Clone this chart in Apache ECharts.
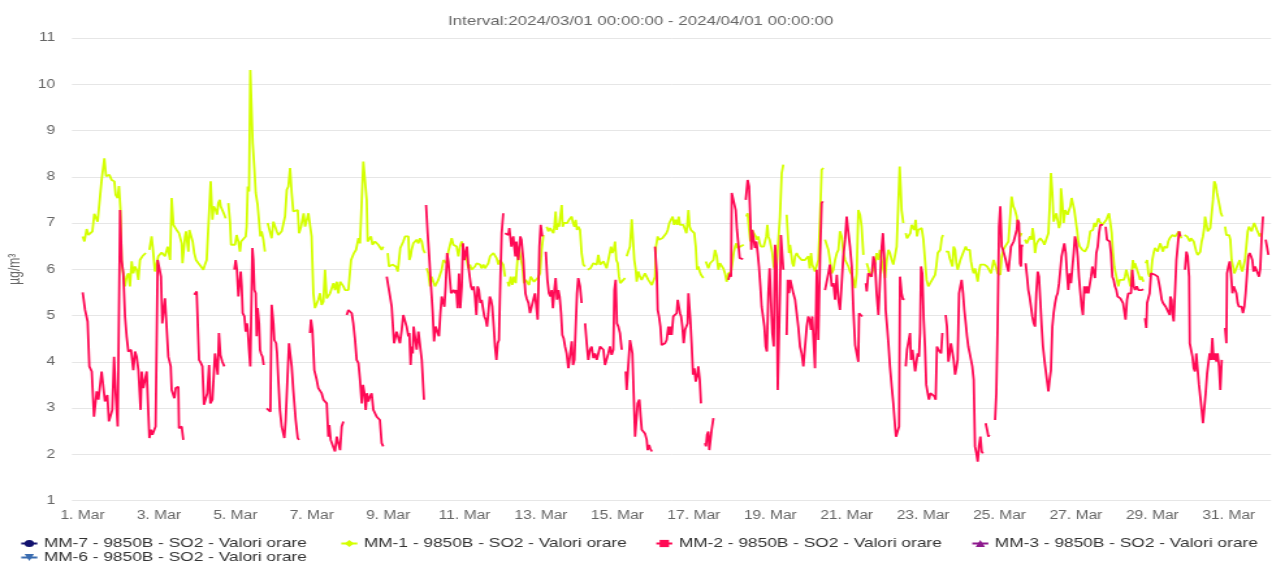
<!DOCTYPE html>
<html><head><meta charset="utf-8">
<script src="https://cdn.jsdelivr.net/npm/echarts@6/dist/echarts.min.js"></script>
<style>
html,body{margin:0;padding:0;background:#fff;overflow:hidden}
#wrap{width:1272px;height:563px;overflow:hidden;position:relative}
#c{position:absolute;left:0;top:0;height:563px;transform-origin:0 0}
</style></head>
<body><div id="wrap"><div id="c"></div></div>
<script>
// ---------- data (hours since 2024-03-01 00:00, µg/m³) ----------
const titleText = 'Interval:2024/03/01 00:00:00 - 2024/04/01 00:00:00';
const unitLabel = 'µg/m³';
const seriesNames = ['MM-7 - 9850B - SO2 - Valori orare','MM-1 - 9850B - SO2 - Valori orare','MM-2 - 9850B - SO2 - Valori orare','MM-3 - 9850B - SO2 - Valori orare','MM-6 - 9850B - SO2 - Valori orare'];
const seriesColors = ['#12126e','#d4ff00','#ff0a55','#8e1a8e','#3a6cb0'];
const tickDays = [1,3,5,7,9,11,13,15,17,19,21,23,25,27,29,31];
const yTicks = {min:1, max:11, step:1};

const mm7 = [];
const mm3 = [];
const mm6 = [];

const mm1 = [
[0.1,6.71],[1.2,6.60],[2.6,6.87],[3.7,6.74],[6.2,6.82],[7.4,7.20],[9.5,7.03],[12.0,7.93],[13.7,8.40],[14.8,8.01],[16.9,8.04],[18.3,7.93],[20.0,7.90],[20.8,7.61],[22.1,7.54],[22.9,7.80],[23.8,7.32],[24.6,6.13],[26.7,5.63],[27.7,5.84],[28.8,5.91],[29.8,5.63],[30.9,6.17],[31.9,5.91],[33.0,6.06],[34.0,5.99],[35.1,5.77],[36.1,6.20],[37.6,6.28],[39.7,6.35],null,
[42.0,6.42],[43.4,6.71],[44.1,6.49],[45.5,5.95],[47.6,6.28],[49.7,6.36],[51.8,6.28],[53.5,6.49],[55.0,6.20],[56.0,7.54],[57.1,6.96],
[58.1,6.92],[59.1,6.85],[60.6,6.78],[62.3,6.56],[62.8,6.13],[63.5,6.13],[64.4,6.71],[65.0,6.82],[66.1,6.78],[66.5,6.38],[67.1,6.85],[68.1,6.82],[69.2,6.60],[70.2,6.35],[71.3,6.20],[72.8,6.13],[74.4,6.06],[75.9,5.99],[76.9,6.10],[78.0,6.20],[79.0,6.17],[79.7,7.36],[80.5,7.90],[81.6,7.07],[82.4,7.36],[83.7,7.28],[84.5,7.18],[85.3,7.43],[86.2,7.50],[86.8,7.36],[87.8,7.32],[89.1,7.18],[89.9,7.10],null,
[91.6,7.43],[92.7,7.00],[93.3,6.53],[94.8,6.49],[95.8,6.53],[96.8,6.74],[97.9,6.60],[98.9,6.38],[99.6,6.60],[101.0,6.60],[102.5,6.71],[103.1,6.92],[103.8,7.79],[104.6,7.68],[105.4,10.31],[106.3,10.31],[106.9,8.73],[108.0,8.15],[108.8,7.65],[110.0,7.39],[110.9,7.36],[111.7,6.71],[112.5,6.82],[113.6,6.64],[114.6,6.38],null,
[116.3,7.00],[117.8,7.00],[118.8,6.67],[119.9,7.03],[120.9,7.00],[122.0,6.82],[123.0,6.74],[124.0,6.78],[125.1,6.82],[126.1,6.82],[127.2,7.14],[128.3,7.72],[129.3,7.79],[130.4,8.19],[131.4,7.65],[132.4,7.25],
[133.5,7.28],[135.2,7.28],[136.0,6.78],[137.3,6.92],[138.1,6.92],[138.9,7.21],[139.8,6.92],[140.8,6.96],[141.9,7.21],[142.9,7.18],[143.9,6.71],[145.0,5.48],[146.0,5.16],[147.1,5.16],[148.1,5.34],[149.2,5.48],[150.2,5.23],[151.3,5.30],[152.3,5.99],[153.4,5.37],[154.4,5.37],[155.5,5.48],[156.5,5.48],[157.6,5.70],[158.6,5.55],[159.7,5.73],[160.7,5.48],[161.8,5.73],[162.8,5.70],[163.9,5.63],[164.9,5.55],[166.0,5.55],[167.0,5.55],[168.0,5.59],[168.7,6.20],[169.5,6.20],[170.5,6.35],[171.8,6.42],[173.3,6.67],[174.3,6.56],[175.4,6.60],[176.4,8.33],[177.5,8.33],[178.5,7.50],[179.1,6.60],[180.0,6.60],[181.2,6.71],[182.1,6.53],[182.9,6.53],[183.7,6.60],[184.8,6.56],[185.8,6.53],[186.8,6.49],[187.9,6.42],[188.9,6.49],null,
[191.7,6.35],[192.5,6.06],[193.6,6.06],[194.6,6.10],[195.7,6.06],[196.9,6.06],[198.0,5.95],[198.8,6.20],[199.6,6.46],[200.5,6.46],[201.5,6.60],[202.6,6.71],[203.6,6.71],[204.7,6.71],[205.3,6.20],[206.1,6.28],[206.7,6.42],[207.8,6.56],
[208.9,6.56],[209.9,6.64],[211.0,6.56],[212.0,6.67],[213.1,6.60],[214.1,6.42],[215.1,6.35],null,
[216.2,6.02],[217.2,5.91],[218.3,5.63],[219.3,5.84],[220.4,5.84],[221.4,5.63],[222.5,5.59],[223.5,5.77],[224.6,5.81],[225.6,5.99],[226.7,6.20],[227.7,6.24],[228.7,6.13],[229.8,6.38],[230.8,6.35],[231.9,6.67],[232.9,6.53],[234.0,6.53],[235.0,6.49],[236.1,6.28],[237.1,6.49],[238.2,6.60],[239.2,6.42],[240.3,6.35],[241.3,6.20],[242.4,6.02],[243.4,6.10],[244.4,5.99],[245.5,6.02],[246.5,6.06],[247.6,6.13],[248.6,6.13],[249.7,6.10],[250.7,6.02],[251.8,6.10],[252.8,6.02],[253.9,5.99],[254.9,6.13],[256.0,6.28],[257.0,6.28],[258.1,6.35],[259.1,6.38],[260.1,6.24],[261.2,6.10],[262.2,6.20],[263.3,6.20],[264.3,6.10],[265.4,5.84],null,
[267.1,5.73],[267.9,5.63],[269.0,5.84],[270.0,5.66],[271.0,5.84],[272.1,5.70],[273.2,6.20],[274.2,6.49],[275.0,6.28],[276.3,6.06],[277.3,5.70],[278.4,5.77],[279.4,5.77],[280.5,5.66],[281.5,5.84],[282.6,5.81],[283.6,5.73],
[284.2,5.77],[285.9,5.81],[287.4,5.91],[288.4,6.42],[289.5,6.74],null,
[291.6,6.92],[292.6,6.82],[293.7,6.89],[294.7,6.92],[295.8,6.78],[296.4,6.92],[297.2,7.25],[297.9,6.85],[298.5,7.00],[299.3,6.92],[300.1,7.14],[301.0,7.39],[301.6,6.92],[302.4,7.00],[303.5,7.03],[304.5,7.00],[305.6,7.07],[306.4,7.10],[307.3,7.14],[308.1,7.00],[309.0,6.92],[309.8,7.07],[310.6,6.85],[311.4,6.92],[312.5,6.85],[313.5,6.35],[314.6,6.10],[315.7,6.06],null,
[317.3,5.99],[318.2,5.95],[319.0,6.02],[319.8,6.06],[320.9,6.13],[321.9,6.17],[323.0,6.10],[324.0,6.31],[325.1,6.10],[326.1,6.06],[327.2,6.17],[328.2,6.10],[329.2,6.02],[330.3,6.20],[331.3,6.24],[332.0,6.49],[332.8,6.35],[333.7,6.42],[334.5,6.60],[335.3,6.20],[336.2,6.13],[337.0,5.84],[337.8,5.70],[338.7,5.73],[339.7,5.77],[340.8,5.81],null,
[341.8,6.28],[342.9,6.31],[343.9,6.49],[345.0,7.08],[345.8,7.07],[346.6,6.20],[347.5,5.99],[348.1,5.73],[349.1,5.95],[350.2,5.84],[351.2,5.77],[352.3,5.81],[353.3,5.91],[354.4,5.88],[355.4,5.77],[356.5,5.73],[357.6,5.66],[358.6,5.63],
[359.6,5.84],[360.2,6.49],[361.3,6.71],[362.1,6.64],[363.4,6.64],[364.2,6.67],[365.5,6.71],[366.7,6.78],[367.6,6.85],[368.6,7.00],[369.7,7.00],[370.7,7.14],[371.6,6.96],[372.6,7.07],[373.6,6.96],[374.5,7.14],[375.3,6.96],[376.4,6.96],[377.4,6.96],[378.5,6.96],[379.3,6.78],[379.9,6.96],[380.6,7.28],[381.4,6.92],[382.2,6.85],[383.5,6.82],[384.3,6.78],[385.2,6.49],[386.0,5.99],[386.8,6.06],[387.7,5.95],[388.5,5.88],[390.0,5.81],null,
[391.5,6.17],[392.3,6.13],[393.1,6.02],[394.2,6.13],[395.2,6.17],[396.3,6.20],[397.3,6.42],[398.4,6.28],[399.4,5.99],[400.4,6.13],[401.5,6.13],[402.5,6.02],[403.6,5.91],[404.6,5.73],[405.7,5.91],[406.7,5.91],[407.4,5.95],[408.2,6.13],[409.0,6.35],[409.9,6.49],[410.7,6.56],[411.5,6.46],[412.4,6.46],[413.2,6.49],[414.5,6.53],[415.3,6.53],null,
[417.0,7.14],[417.8,7.21],[418.7,6.85],[419.5,6.60],[420.4,6.85],[421.2,6.85],[422.0,6.82],[422.9,6.71],[423.7,6.64],[424.5,6.71],[425.4,6.56],[426.2,6.49],[427.0,6.46],[427.9,6.49],[428.7,6.53],[429.5,6.71],[430.2,6.96],[430.8,6.71],[431.6,6.64],[432.5,6.49],[433.3,6.35],[434.2,6.06],
[435.0,5.99],[436.0,6.06],[437.1,6.64],[438.1,7.14],[439.2,8.08],[440.2,8.26],null,
[442.3,7.18],[443.0,6.78],[443.8,6.35],[444.4,6.53],[445.0,6.38],[445.9,6.13],[446.7,6.06],[447.6,6.28],[448.6,6.35],[449.6,6.28],[450.7,6.24],[451.7,6.20],[452.8,6.24],[453.8,6.20],[454.9,6.17],[455.9,6.28],[456.8,6.02],[457.6,6.35],[458.4,6.10],[459.3,6.02],[460.1,5.95],[461.2,5.99],[462.2,6.20],[463.3,7.14],[464.3,8.15],[465.4,8.19],null,
[466.4,6.64],[467.4,6.60],[468.5,6.42],[469.5,6.20],[470.6,5.91],[471.7,5.99],[472.7,6.20],[473.8,6.35],[474.8,6.42],[475.8,6.82],[476.9,6.71],[477.9,6.38],[479.0,6.20],[480.0,6.17],[481.1,6.06],[482.1,5.95],[483.2,5.88],[484.2,5.77],[485.3,5.59],[486.3,5.91],[487.3,7.28],[488.4,7.18],[489.4,6.92],[490.5,6.31],null,
[492.6,6.13],[493.6,6.02],[494.7,5.84],[495.7,5.91],[496.8,5.95],[497.8,6.13],[498.8,6.35],[499.9,6.20],[500.9,6.42],[502.0,6.38],[503.0,5.99],[504.1,5.81],[505.2,6.20],[506.2,6.42],[507.2,6.35],[508.3,6.20],[509.3,6.10],
[510.4,6.06],[511.4,6.49],[512.5,7.50],[513.3,8.22],[513.9,7.79],[514.5,7.28],[515.6,7.00],null,
[517.1,6.78],[517.9,6.67],[519.2,6.64],[520.0,6.78],[520.8,6.96],[521.9,7.00],[522.5,6.85],[523.3,7.07],[524.2,6.71],[525.0,6.85],[526.1,6.85],[527.1,6.89],[528.2,6.64],[529.2,6.20],[530.2,5.77],[531.3,5.63],[532.1,5.59],[533.0,5.73],[533.8,5.73],[534.6,5.77],[535.5,5.88],[536.3,6.06],[537.2,6.35],[538.0,6.35],[538.8,6.42],[539.7,6.67],[540.5,6.74],null,
[542.2,6.38],[543.0,6.35],[543.9,6.38],[544.7,6.24],[545.5,6.20],[546.4,6.06],[547.2,6.49],[548.1,6.42],[548.9,6.13],[549.7,5.99],[550.6,6.02],[551.4,6.20],[552.2,6.24],[553.1,6.35],[553.9,6.38],[554.8,6.49],[555.6,6.42],[556.4,6.46],[557.3,6.42],[558.1,6.17],[558.9,6.02],[559.8,5.91],[560.6,6.02],[561.5,5.88],[562.3,5.73],[563.1,5.95],[564.0,6.10],[564.8,6.13],[565.6,6.13],[566.5,6.10],[567.3,6.10],[568.2,6.06],[569.0,6.06],[569.8,6.10],[570.7,5.91],[571.5,5.91],[572.3,6.20],[573.2,6.24],[574.0,6.02],[574.8,5.91],[575.7,5.88],[576.5,5.88],[577.4,6.28],[578.4,6.42],[579.5,6.49],[580.6,6.53],[581.6,6.60],[582.6,6.64],[583.6,7.57],[584.7,7.36],
[585.7,7.28],[586.8,7.14],[587.8,6.85],[588.9,6.71],[589.9,6.78],null,
[592.0,6.64],[593.1,6.56],[594.1,6.60],[595.2,6.71],[596.2,6.64],[596.8,6.89],[597.5,6.74],[598.3,6.35],[599.1,6.53],[600.0,6.60],[600.8,6.60],[601.6,6.67],[602.5,6.71],[603.3,6.60],[604.2,6.53],[605.0,6.53],[605.8,6.53],[606.7,6.78],[607.5,7.36],[608.3,8.08],[609.2,7.65],[610.0,7.03],[610.9,7.07],[611.7,7.21],[612.5,7.25],[613.4,6.89],[614.2,7.00],[614.6,7.75],[615.5,7.43],[616.3,7.00],[617.2,7.28],[618.0,7.32],[618.8,7.18],[619.7,7.28],[620.5,7.36],[621.3,7.54],[622.2,7.54],[623.0,7.28],[623.8,7.07],[624.7,6.85],[625.5,6.60],[626.4,6.49],[627.2,6.46],[628.0,6.42],[628.9,6.42],[629.7,6.38],[630.5,6.42],[631.4,6.49],[632.2,6.64],[633.0,6.82],[633.9,6.85],[634.7,6.85],[635.6,7.00],[636.4,6.92],[637.2,7.00],[638.1,7.10],[638.9,7.03],[639.7,7.00],[640.6,6.96],[641.4,6.92],[642.2,7.00],[643.1,7.07],[643.9,7.14],[644.8,7.21],[645.6,7.25],[646.5,6.78],[647.3,6.35],[648.1,6.06],[649.0,5.91],[649.8,5.77],[650.6,5.63],[651.5,5.77],[652.3,5.81],[653.1,5.77],[654.0,5.77],[654.8,5.84],[655.6,5.99],[656.5,6.02],[657.3,5.77],[658.2,5.63],[659.0,5.91],[659.8,6.20],[660.7,6.02],
[661.1,6.13],[662.2,6.17],[663.2,5.91],[664.3,5.77],[665.3,5.84],[666.4,5.73],null,
[667.8,6.13],[668.7,6.20],[669.5,5.91],[670.3,5.84],[671.2,5.91],[672.0,6.20],[672.8,6.35],[673.7,6.46],[674.5,6.49],[675.4,6.38],[676.2,6.49],[677.0,6.56],[677.9,6.53],[678.7,6.38],[679.5,6.49],[680.4,6.46],[681.2,6.46],[682.0,6.60],[682.9,6.67],[683.7,6.71],[684.6,6.74],[685.4,6.71],[686.3,6.71],[687.1,6.67],[687.9,6.74],[688.8,6.82],[689.6,6.71],[690.4,6.67],null,
[692.1,6.74],[692.9,6.74],[693.8,6.71],[694.6,6.67],[695.5,6.60],[696.3,6.67],[697.2,6.64],[698.0,6.60],[698.8,6.49],[699.6,6.38],[700.5,6.31],[701.3,6.35],[702.1,6.38],[703.0,6.60],[703.8,6.71],[704.7,6.92],[705.1,7.14],[705.9,7.00],[706.8,6.82],[707.6,6.82],[708.4,6.89],[709.3,7.21],[710.1,7.50],[710.9,7.90],[711.8,7.83],[712.6,7.65],[713.5,7.50],[714.3,7.36],[715.1,7.21],[716.0,7.14],null,
[717.7,6.92],[718.5,6.74],[719.3,6.78],[720.2,6.74],[721.0,6.64],[721.8,6.20],[722.7,6.06],[723.5,5.91],[724.4,5.99],[725.2,6.06],[726.0,6.13],[726.9,6.20],[727.7,6.02],[728.5,5.95],[729.4,5.99],[730.2,6.20],[731.0,6.49],[731.9,6.82],[732.7,6.92],[733.5,6.96],[734.4,6.82],[735.2,6.92],[736.0,7.00],[736.9,6.96],[737.7,6.85],[738.6,6.78],[739.4,6.71],[740.2,6.78]
];

const mm2 = [
[0.1,5.50],[1.6,5.12],[3.2,4.87],[4.3,3.90],[5.8,3.79],[7.2,2.81],[8.3,2.85],[8.9,3.36],[10.0,3.18],[10.6,3.36],[12.0,3.79],[13.1,3.79],[14.1,3.14],[15.6,3.28],[16.6,2.71],[17.9,2.74],[18.7,2.96],[19.8,4.11],[20.8,3.32],[22.1,2.60],[23.6,7.28],[24.6,6.20],[25.6,5.91],[26.7,4.98],[27.7,4.55],[28.8,4.22],[30.5,4.26],[31.9,3.82],[33.0,4.22],[34.0,4.11],[35.1,3.82],[36.5,2.96],[37.2,3.79],[38.2,3.43],[39.3,3.39],[40.3,3.79],[42.0,2.35],[43.0,2.53],[43.9,2.42],[45.1,2.53],[45.9,2.60],[47.2,6.20],[48.0,6.24],[49.3,5.84],[50.1,4.83],[50.9,4.87],[51.8,5.37],[52.7,5.34],[53.9,4.11],[55.4,3.90],[56.0,3.39],[57.1,3.43],[57.7,3.21],[58.5,3.43],[59.1,3.43],[60.2,3.46],[60.6,2.56],[62.3,2.60],[63.3,2.31],null,
[70.2,5.45],[71.7,5.52],[72.3,5.48],[73.2,4.04],[74.4,3.97],[75.3,3.90],[76.3,3.07],[77.4,3.10],[78.4,3.32],[79.5,3.93],[80.3,3.10],[81.6,3.18],[82.4,3.21],[83.2,4.18],[84.1,4.15],[84.9,3.72],[85.7,4.62],[86.6,4.15],[87.8,4.00],[89.1,3.90],null,
[95.4,5.99],[96.2,6.20],[97.0,5.99],[97.9,5.41],[98.7,5.41],[99.4,5.95],[100.0,5.63],[100.6,5.05],[101.7,4.98],[102.5,4.65],[103.3,4.83],[103.8,4.69],[104.6,4.26],[105.4,3.90],[106.3,3.90],[106.7,6.46],[107.3,6.20],[108.0,5.55],[108.8,5.48],[109.4,4.55],[110.0,5.16],[110.9,4.83],[111.5,4.26],[112.1,4.18],[113.0,4.11],[113.8,3.93],null,
[115.7,2.99],[117.1,3.03],[118.0,2.92],[118.8,5.23],[119.9,4.83],[120.5,4.47],[121.6,4.40],[122.2,4.18],[123.0,3.61],[124.0,2.96],[125.1,2.60],[126.1,2.60],[126.8,2.35],[127.6,2.74],[128.7,3.61],[129.7,4.40],[130.6,4.44],[131.4,3.90],[132.4,3.39],[133.9,2.74],[135.2,2.35],[136.0,2.31],null,
[142.9,4.62],[143.5,4.91],[144.4,4.69],[145.6,3.82],[147.1,3.61],[148.1,3.43],[149.2,3.46],[150.2,3.32],[151.3,3.18],[152.3,3.18],[153.4,3.10],[154.4,2.38],[155.0,2.63],[155.9,2.31],[156.9,2.35],[158.6,2.06],[159.7,2.38],[160.7,2.35],[161.8,2.09],[162.8,2.60],[163.9,2.71],null,
[166.0,5.01],[167.0,5.12],[168.0,5.16],[169.1,5.05],[170.1,4.83],[171.2,4.47],[172.2,4.04],[173.3,3.97],[174.3,3.61],[175.4,3.10],[176.2,3.50],[177.1,3.32],[177.9,2.96],[178.7,3.32],[179.5,3.14],[180.6,3.25],[181.6,3.32],[182.7,2.96],[183.7,2.96],[184.8,2.81],[185.8,2.85],[186.8,2.74],[187.9,2.24],[188.9,2.17],null,
[191.1,5.84],[192.1,5.63],[193.2,5.41],[194.2,5.19],[194.8,5.23],[195.7,4.40],[196.3,4.40],[197.3,4.65],[198.4,4.65],[199.4,4.40],[200.5,4.69],[201.5,5.01],[202.6,4.98],[203.6,4.76],[204.7,4.55],[205.3,4.62],[206.1,3.93],[206.7,4.33],[207.4,4.18],[208.0,4.76],
[208.9,4.80],[209.9,4.26],[211.0,4.65],[212.0,4.69],[213.1,4.04],[214.5,3.18],null,
[215.8,7.39],[216.8,6.78],[217.9,6.20],[218.9,5.63],[220.0,5.05],[220.8,4.44],[221.8,4.76],[222.9,4.76],[223.9,4.55],[224.8,5.05],[225.6,5.41],[226.5,5.45],[227.3,5.19],[228.1,5.63],[229.0,6.35],[229.8,6.17],[230.6,6.20],[231.5,5.48],[232.3,5.48],[233.2,5.55],[234.0,5.48],[234.8,5.55],[235.6,5.16],[236.5,5.91],[237.3,5.16],[238.2,5.63],[239.0,6.56],[239.9,6.20],[240.7,6.35],[241.5,6.49],[242.4,6.06],[243.2,6.06],[244.0,5.63],[244.9,5.55],[245.7,5.63],[246.5,5.41],[247.4,5.01],[248.2,5.63],[249.0,5.55],[249.9,5.27],[250.7,5.34],[251.6,5.34],[252.4,4.98],[253.3,4.91],[254.1,4.76],[254.9,5.05],[255.8,5.41],[256.6,5.34],[257.4,5.19],[258.3,4.76],[259.1,4.33],[260.0,4.04],[260.8,4.40],[261.6,4.47],[262.5,5.84],[263.3,6.78],[264.3,7.21],null,
[265.4,6.78],[266.4,6.82],[267.5,6.74],[268.1,6.89],[268.7,6.92],[269.4,6.49],[270.0,6.64],[270.6,6.71],[271.3,6.46],[271.9,6.28],[272.5,6.60],[273.2,6.31],[273.8,6.20],[274.4,6.49],[275.0,6.71],[275.7,6.64],[276.3,6.42],[276.9,6.20],[277.6,5.77],[278.2,5.48],[279.0,5.37],[280.1,5.27],[281.1,5.05],[282.2,5.05],[283.2,5.34],
[284.2,5.48],[285.9,4.91],[287.0,6.49],[287.8,6.96],[288.8,6.71],null,
[291.0,6.38],[292.0,5.77],[293.0,5.48],[293.9,5.41],[294.7,5.55],[295.5,5.16],[296.4,5.55],[297.2,5.81],[298.1,5.34],[298.9,5.55],[299.7,5.41],[300.6,5.05],[301.4,4.58],[302.2,4.51],[303.1,4.33],[304.1,4.18],[305.2,3.86],[306.2,3.90],[307.3,4.44],[308.1,3.93],[309.0,4.04],[309.8,4.04],[310.6,5.48],[311.4,5.81],[312.5,5.63],[313.5,5.27],null,
[315.7,4.83],[316.7,4.40],[317.7,4.04],[318.8,4.26],[319.8,4.33],[320.9,4.08],[321.9,4.18],[323.0,4.04],[324.0,4.00],[325.1,4.33],[326.1,4.36],[327.2,4.26],[328.2,3.93],[329.2,3.93],[330.3,4.18],[331.3,4.33],[332.4,4.15],[333.4,4.26],[334.1,5.55],[334.9,5.77],[335.7,4.83],[336.6,4.76],[337.6,4.62],[338.7,4.26],null,
[341.2,3.79],[341.8,3.39],[342.9,3.43],[343.9,4.47],[344.6,4.51],[345.4,4.18],[346.2,3.32],[347.1,2.38],[347.9,2.38],[348.7,3.10],[349.8,3.18],[350.6,2.81],[351.3,2.53],[352.3,2.49],[353.3,2.45],[354.4,2.31],[355.0,2.09],[355.9,2.20],[356.5,2.13],[357.6,2.06],null,
[359.6,6.49],[360.7,5.91],[361.3,5.12],[362.1,4.98],[363.0,4.76],[363.8,4.36],[364.9,4.36],[365.9,4.40],[366.9,4.47],[368.0,4.76],[368.6,4.58],[369.2,4.76],[370.1,4.58],[371.1,4.98],[372.2,5.01],[373.2,5.05],[373.9,5.34],[374.7,5.34],[375.3,5.05],[376.0,4.98],[376.8,4.76],[377.6,4.40],[378.5,4.69],[379.3,4.69],[380.1,4.83],[380.6,5.48],[381.2,5.48],[381.8,4.91],[382.6,4.40],[383.5,3.72],[384.3,3.86],[385.2,3.57],[386.0,3.68],[386.8,3.90],[387.7,3.61],[388.5,3.10],null,
[391.0,2.24],[391.6,2.17],[392.3,2.42],[393.1,2.49],[393.7,2.09],[394.4,2.09],[395.2,2.53],[396.3,2.78],null,
[405.7,5.77],[406.7,5.91],[407.4,5.84],[407.8,7.65],[408.8,7.68],[409.4,7.68],[410.3,7.28],[411.1,6.85],[412.0,6.53],[412.8,6.24],[413.6,6.24],[414.9,6.22],null,
[416.6,7.50],[417.4,7.47],[417.8,7.93],[418.7,7.79],[419.5,7.07],[420.1,6.42],[420.7,6.85],[421.6,6.85],[422.4,6.46],[423.3,6.60],[424.1,6.35],[424.9,6.06],[425.8,5.63],[426.6,5.19],[427.4,5.16],[428.3,4.76],[429.1,4.33],[429.9,4.22],[430.8,5.48],[431.6,6.02],[432.5,5.27],[433.3,4.62],[434.2,4.33],
[435.0,6.53],[436.0,6.06],[436.7,3.39],[437.5,3.43],[438.1,5.48],[438.7,6.74],[439.6,6.74],[440.2,5.99],null,
[442.3,4.58],[443.0,5.77],[443.8,5.48],[444.6,5.77],[445.5,5.77],[446.5,5.48],[447.6,5.34],[448.6,5.05],[449.6,4.76],[450.7,4.33],[451.7,4.18],[452.8,3.90],[453.8,3.86],[454.9,4.76],[455.9,4.98],[456.8,4.91],[457.6,4.69],[458.4,4.98],[459.3,4.98],[460.1,3.86],[461.2,5.99],[462.2,4.47],[463.3,6.28],[464.3,7.43],[465.0,7.47],null,
[466.4,5.55],[467.4,5.57],[468.5,5.91],[469.5,6.10],[470.6,5.63],[471.7,5.70],[472.7,5.34],[473.8,5.88],[474.8,5.34],[475.8,5.12],[476.9,5.70],[477.9,6.28],[479.0,6.64],[480.0,7.14],[481.1,6.78],[482.1,6.49],[483.2,6.06],[484.2,5.12],[485.3,4.36],[486.3,4.18],[487.3,4.00],[487.8,5.05],[488.6,5.05],[489.8,4.98],null,
[492.0,5.70],[492.6,5.52],[493.6,5.91],[494.7,5.91],[495.7,5.84],[496.8,6.28],[497.8,6.13],[498.8,5.48],[499.9,5.01],[500.9,5.05],[502.0,6.49],[502.8,6.78],[503.7,6.20],[504.5,5.12],[505.4,4.76],[506.2,4.40],[507.2,3.90],[508.3,3.46],[509.3,3.10],[510.4,2.60],
[511.0,2.38],[512.0,2.38],[512.9,2.60],[513.5,5.84],[514.5,5.48],[515.4,5.34],[516.0,5.37],null,
[517.1,3.90],[517.9,4.26],[518.7,4.22],[519.8,4.62],[520.4,4.04],[521.3,4.26],[522.1,4.26],[523.0,3.79],[523.8,3.75],[524.6,4.18],[525.4,4.11],[526.1,4.62],[526.7,6.06],[527.5,5.91],[528.4,4.91],[529.2,4.33],[530.0,3.50],[530.9,3.32],[531.7,3.18],[532.6,3.32],[533.4,3.32],[534.2,3.32],[535.1,3.25],[535.9,3.18],[536.7,4.33],[537.6,4.26],[538.4,4.26],[539.3,4.18],[540.1,4.62],null,
[542.2,5.01],[543.0,4.76],[543.9,4.00],[544.7,4.18],[545.5,4.40],[546.4,4.40],[547.2,4.04],[548.1,3.72],[548.9,3.86],[549.7,4.04],[550.6,5.48],[551.4,5.63],[552.2,5.77],[553.1,5.48],[553.9,5.12],[554.8,4.83],[555.6,4.55],[556.4,4.33],[557.3,4.18],[558.1,4.04],[558.9,3.90],[559.8,3.61],[560.6,2.17],[561.5,2.02],[562.3,1.84],[563.1,2.17],[564.0,2.38],[564.8,2.06],[565.6,2.02],null,
[567.3,2.67],[568.2,2.53],[569.0,2.38],[569.6,2.42],null,
[573.2,2.74],[574.0,3.32],[574.8,4.76],[575.7,6.92],[576.5,7.36],[577.4,6.49],[578.2,6.42],[579.1,6.42],[579.9,6.20],[580.8,6.06],[581.6,5.95],[582.4,5.95],[583.2,6.49],[584.1,6.49],[584.9,6.60],
[585.7,6.64],[586.8,6.85],[587.4,7.07],[588.2,7.00],[588.9,6.13],[589.5,6.06],[589.9,6.53],[590.5,6.49],null,
[592.4,6.13],[593.3,5.84],[594.1,5.55],[594.9,5.41],[595.8,5.45],[596.6,4.98],[597.5,4.83],[598.3,4.76],[599.1,5.48],[600.0,5.95],[600.8,5.84],[601.6,5.34],[602.5,4.76],[603.3,4.33],[604.2,4.04],[605.0,3.82],[605.8,3.79],[606.7,3.36],[607.5,3.61],[608.3,3.82],[609.2,4.76],[610.0,5.05],[610.9,5.27],[611.7,5.41],[612.5,5.48],[613.4,5.70],[614.2,5.99],[615.0,6.28],[615.9,6.28],[616.7,6.56],[617.6,6.35],[618.4,5.91],[619.2,5.55],[620.1,5.91],[620.9,5.70],[621.7,5.73],[622.6,6.35],[623.4,6.71],[624.3,6.56],[625.1,6.28],[625.9,5.84],[626.8,5.48],[627.6,5.19],[628.4,5.01],[629.3,5.63],[630.1,5.48],[630.9,5.63],[631.8,5.48],[632.6,5.48],[633.5,5.84],[634.3,6.06],[635.1,6.10],[636.0,5.81],[636.8,6.35],[637.7,6.49],[638.5,6.78],[639.3,6.96],[640.2,7.00],[641.0,6.96],null,
[642.7,6.92],[643.5,6.64],[644.4,6.60],[645.2,6.60],[646.0,6.35],[646.9,5.84],[647.7,5.77],[648.5,5.63],[649.4,5.55],[650.2,5.41],[651.0,5.37],[651.9,5.37],[652.7,5.34],[653.6,5.27],[654.4,5.09],[655.2,4.91],[656.1,5.34],[656.9,5.48],[657.7,5.52],[658.6,5.48],[659.4,5.99],[660.3,5.63],
[661.1,5.55],[662.2,5.63],[663.2,5.55],[664.3,5.55],[665.3,5.55],[666.4,5.57],null,
[667.4,4.94],[668.2,4.73],[668.7,5.27],[669.5,5.23],[670.3,5.48],[671.2,5.91],[672.0,5.91],[672.8,5.88],[673.7,5.88],[674.5,5.84],[675.4,5.84],[676.2,5.70],[677.0,5.55],[677.9,5.34],[678.7,5.27],[679.5,5.23],[680.4,5.19],[681.2,5.19],[682.0,5.16],[682.9,5.01],[683.3,5.41],[684.1,5.34],[684.6,5.05],[685.4,4.87],[685.8,4.83],[686.3,5.55],[687.1,6.20],[687.9,6.49],[688.8,6.82],[689.6,6.71],null,
[692.5,5.99],[693.4,6.38],[694.2,6.28],[695.1,5.84],[695.5,4.40],[696.3,4.26],[697.2,4.11],[698.0,3.86],[698.8,3.79],[699.6,4.18],[700.5,3.82],[701.3,3.50],[702.1,3.25],[703.0,2.96],[703.8,2.67],[704.7,2.63],[705.5,3.32],[706.4,3.75],[707.2,3.97],[708.0,4.18],[708.9,4.04],[709.7,4.51],[710.5,4.04],[711.4,4.18],[712.2,4.00],[713.0,4.18],[713.9,3.90],[714.7,3.39],[715.6,4.04],null,
[717.7,4.73],[718.5,4.40],[718.9,5.91],[719.8,6.06],[720.6,6.17],[721.4,5.91],[722.3,5.48],[723.1,5.63],[723.9,5.63],[724.8,5.48],[725.6,5.27],[726.4,5.19],[727.3,5.23],[728.1,5.19],[728.9,5.05],[729.8,5.19],[730.6,5.48],[731.5,5.91],[732.3,6.28],[733.1,6.35],[734.0,6.28],[734.8,6.20],[735.6,5.95],[736.5,6.06],[737.3,6.02],[738.1,6.06],[739.0,5.84],[739.8,6.02],[740.7,6.71],[741.5,7.14],null,
[743.2,6.64],[744.0,6.49],[744.9,6.31]
];

// ---------- layout (reference pixels; the page is stretched horizontally) ----------
const S = 1.3;
const W = Math.round(1272 / S);
const SX = 1272 / W;
const rx = v => v / SX;
const el = document.getElementById('c');
el.style.width = W + 'px';
el.style.transform = 'scaleX(' + SX + ')';

const FONT = 'Liberation Sans, Arial, sans-serif';
const X0 = 82.5, PXH = 1.592;       // x of hour 0 and pixels per hour (reference)
const GL = 72, GR = 1271, GT = 38, GB = 500.5;

function toData(arr){
  const out = []; let lastX = 0;
  for (const p of arr){
    if (p === null){ out.push([lastX + 0.2, null]); }
    else { out.push(p); lastX = p[0]; }
  }
  return out;
}
const seriesData = [mm7, mm1, mm2, mm3, mm6];
const symbols = ['circle','diamond','rect','triangle','path://M0,0L10,0L5,9Z'];

const chart = echarts.init(el, null, {renderer:'canvas', width: W, height: 563});
const legendLefts = [20, 340, 655, 971, 20];
const legendTops = [537, 537, 537, 537, 551];

chart.setOption({
  animation: false,
  backgroundColor: '#fff',
  textStyle: {fontFamily: FONT},
  title: {text: titleText, left: rx(448), top: 15, padding: 0,
    textStyle: {color:'#666', fontSize: 13, fontWeight:'normal', fontFamily: FONT}},
  legend: seriesNames.map((n, i) => ({
    data: [n], left: rx(legendLefts[i]), top: legendTops[i], orient:'horizontal',
    itemWidth: rx(16), itemHeight: 9, padding: 0, selectedMode: false,
    textStyle: {color:'#333', fontSize: 13.3, fontFamily: FONT}
  })),
  grid: {left: rx(GL), right: W - rx(GR), top: GT, bottom: 563 - GB, containLabel: false, outerBoundsMode: 'none'},
  xAxis: {
    type: 'value',
    min: (GL - X0) / PXH, max: (GR - X0) / PXH,
    axisLine: {show: false}, axisTick: {show: false}, splitLine: {show: false},
    axisLabel: {
      customValues: tickDays.map(d => (d - 1) * 24),
      formatter: v => (Math.round(v / 24) + 1) + '. Mar',
      color: '#666', fontSize: 12, margin: 9, fontFamily: FONT
    }
  },
  yAxis: {
    type: 'value', min: yTicks.min, max: yTicks.max, interval: yTicks.step,
    name: unitLabel, nameLocation: 'middle', nameRotate: 90, nameGap: 36,
    nameTextStyle: {color:'#666', fontSize: 12, fontFamily: FONT},
    axisLine: {show: false}, axisTick: {show: false},
    axisLabel: {color:'#666', fontSize: 12, margin: 13, fontFamily: FONT},
    splitLine: {lineStyle: {color:'#e6e6e6', width: 1}}
  },
  series: seriesNames.map((n, i) => ({
    name: n, type: 'line', data: toData(seriesData[i]),
    showSymbol: false, symbol: symbols[i], symbolSize: 7,
    connectNulls: false, silent: true,
    lineStyle: {width: 1.8, color: seriesColors[i]},
    itemStyle: {color: seriesColors[i]},
    emphasis: {disabled: true}
  }))
});
</script>
</body></html>
